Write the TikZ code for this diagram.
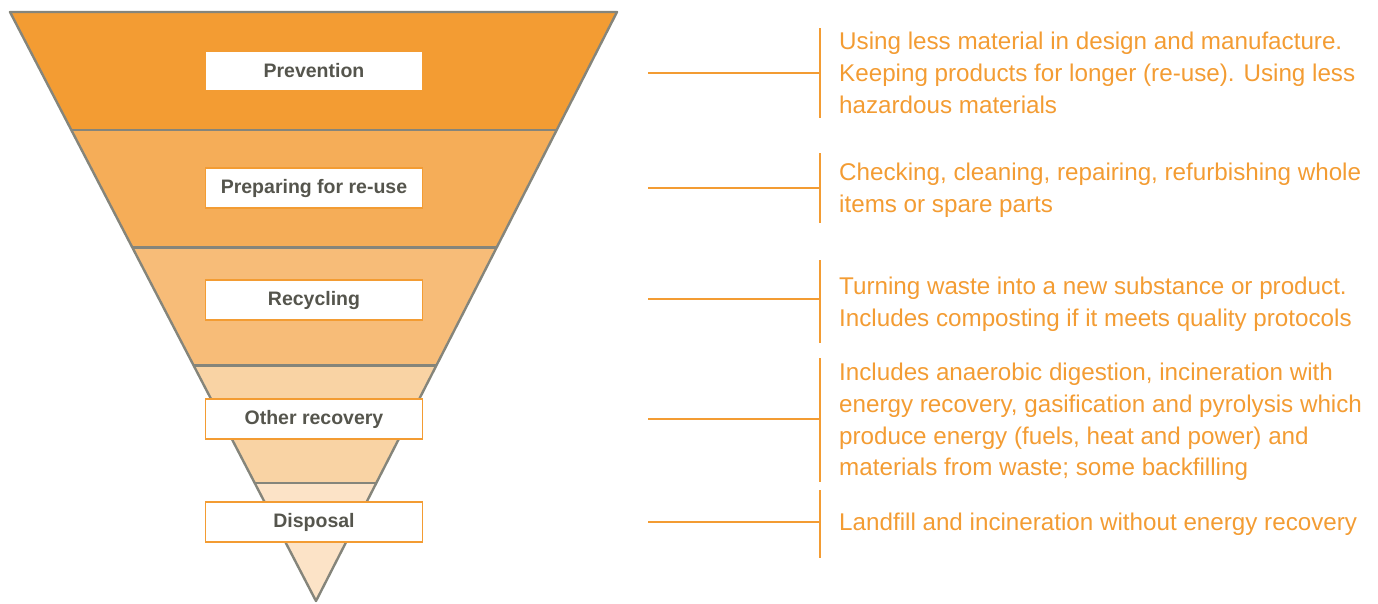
\documentclass[tikz,border=0pt]{standalone}
\usepackage{fontspec}
\setmainfont{Liberation Sans}
\usetikzlibrary{calc,positioning}
\definecolor{wasteorange}{HTML}{F39C33}
\definecolor{funnelgray}{HTML}{85857B}
\definecolor{labelgray}{HTML}{55554D}
\definecolor{bandA}{HTML}{F39C33}
\definecolor{bandB}{HTML}{F5AD58}
\definecolor{bandC}{HTML}{F7BC78}
\definecolor{bandD}{HTML}{F9D3A4}
\definecolor{bandE}{HTML}{FCE3C7}
\tikzset{
	edge line/.style={draw=funnelgray,line width=2.4pt,line join=round},
	label box/.style={draw=wasteorange,fill=white,line width=1.2pt,minimum width=217pt,
		minimum height=40pt,text=labelgray,font=\bfseries\fontsize{19.5}{22}\selectfont},
	note/.style={text=wasteorange,align=left,anchor=west,inner sep=0pt,
		font=\fontsize{24.2}{31.8}\selectfont},
	bracket/.style={draw=wasteorange,line width=2.2pt}
}

\begin{document}
\begin{tikzpicture}[x=1pt,y=-1pt]
\useasboundingbox (0,0) rectangle (1378,603);
\coordinate (tl) at (10,12);
\coordinate (tr) at (617,12);
\coordinate (apex) at (316,601);
% the five bands of the funnel
\foreach \t/\u/\c in {0/0.2/bandA,0.2/0.4/bandB,0.4/0.6/bandC,0.6/0.8/bandD,0.8/1/bandE}
	\fill[\c] ($(tl)!\t!(apex)$) -- ($(tr)!\t!(apex)$) -- ($(tr)!\u!(apex)$) -- ($(tl)!\u!(apex)$) -- cycle;
\foreach \t in {0.2,0.4,0.6,0.8}
	\draw[edge line] ($(tl)!\t!(apex)$) -- ($(tr)!\t!(apex)$);
\draw[edge line] (tl) -- (tr) -- (apex) -- cycle;
% labels
\node[label box] (prev) at (314,71) {Prevention};
\node[label box] (prep) at (314,188) {Preparing for re-use};
\node[label box] (recy) at (314,300) {Recycling};
\node[label box] (other) at (314,419) {Other recovery};
\node[label box] (disp) at (314,522) {Disposal};
% notes on the right
\coordinate (s1) at (648,73);   \coordinate (b1) at (820,73);
\coordinate (s2) at (648,188);  \coordinate (b2) at (820,188);
\coordinate (s3) at (648,299);  \coordinate (b3) at (820,299);
\coordinate (s4) at (648,419);  \coordinate (b4) at (820,419);
\coordinate (s5) at (648,522);  \coordinate (b5) at (820,522);
\draw[bracket] (s1) -- (b1) (820,28) -- (820,118);
\draw[bracket] (s2) -- (b2) (820,153) -- (820,223);
\draw[bracket] (s3) -- (b3) (820,260) -- (820,343);
\draw[bracket] (s4) -- (b4) (820,358) -- (820,482);
\draw[bracket] (s5) -- (b5) (820,490) -- (820,558);
\node[note,right=19pt of b1] (n1) {Using less material in design and manufacture.\\Keeping products for longer (re-use). Using less\\hazardous materials};
\node[note,right=19pt of b2,yshift=-2pt] (n2) {Checking, cleaning, repairing, refurbishing whole\\items or spare parts};
\node[note,right=19pt of b3,yshift=-5pt] (n3) {Turning waste into a new substance or product.\\Includes composting if it meets quality protocols};
\node[note,right=19pt of b4,yshift=-3pt] (n4) {Includes anaerobic digestion, incineration with\\energy recovery, gasification and pyrolysis which\\produce energy (fuels, heat and power) and\\materials from waste; some backfilling};
\node[note,right=19pt of b5,yshift=-2pt] (n5) {Landfill and incineration without energy recovery};
\end{tikzpicture}
\end{document}
